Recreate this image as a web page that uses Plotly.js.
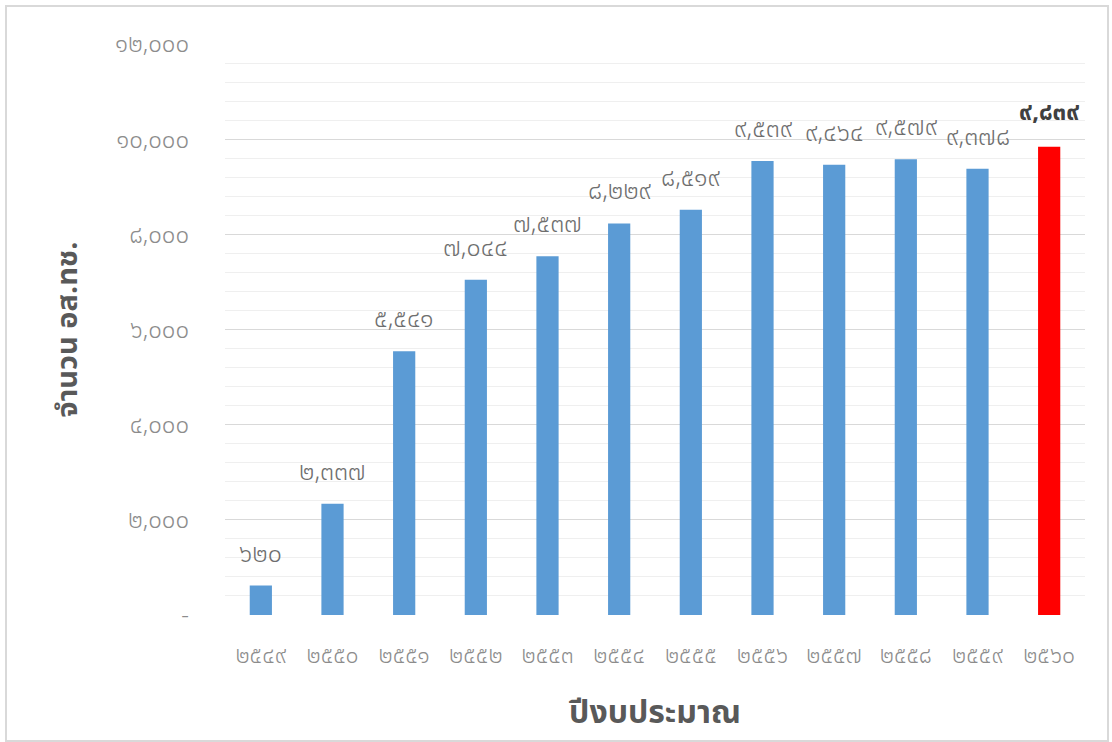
<!DOCTYPE html>
<html>
<head>
<meta charset="utf-8">
<script src="https://cdn.plot.ly/plotly-3.0.1.min.js"></script>
<style>
html,body{margin:0;padding:0;background:#fff;}
#chart{width:1112px;height:742px;position:absolute;left:0;top:0;}
#frame{position:absolute;left:5px;top:5px;width:1100px;height:733px;border:2px solid #d9d9d9;pointer-events:none;}
</style>
</head>
<body>
<div id="chart"></div>
<div id="frame"></div>
<script>
const yearLabels = ['๒๕๔๙','๒๕๕๐','๒๕๕๑','๒๕๕๒','๒๕๕๓','๒๕๕๔','๒๕๕๕','๒๕๕๖','๒๕๕๗','๒๕๕๘','๒๕๕๙','๒๕๖๐'];
const values = [620, 2337, 5541, 7044, 7537, 8229, 8519, 9539, 9464, 9579, 9378, 9839];
const valueLabels = ['๖๒๐','๒,๓๓๗','๕,๕๔๑','๗,๐๔๔','๗,๕๓๗','๘,๒๒๙','๘,๕๑๙','๙,๕๓๙','๙,๔๖๔','๙,๕๗๙','๙,๓๗๘','๙,๘๓๙'];
const yTickVals = [0, 2000, 4000, 6000, 8000, 10000, 12000];
const yTickText = ['-','๒,๐๐๐','๔,๐๐๐','๖,๐๐๐','๘,๐๐๐','๑๐,๐๐๐','๑๒,๐๐๐'];
const barColors = ['#5b9bd5','#5b9bd5','#5b9bd5','#5b9bd5','#5b9bd5','#5b9bd5','#5b9bd5','#5b9bd5','#5b9bd5','#5b9bd5','#5b9bd5','#ff0000'];

const FONT = '"Noto Sans Thai", "Noto Sans", "DejaVu Sans", sans-serif';

const annotations = values.map((v, i) => {
  const last = i === values.length - 1;
  return {
    x: i, y: v, xref: 'x', yref: 'y',
    text: valueLabels[i], showarrow: false, yshift: last ? 34 : 32,
    font: {family: FONT, size: last ? 24 : 25, color: last ? '#404040' : '#6e6e6e', weight: last ? 'bold' : 300}
  };
});

const trace = {
  type: 'bar', x: yearLabels, y: values,
  marker: {color: barColors},
  hoverinfo: 'none'
};

const layout = {
  width: 1112, height: 742,
  margin: {l: 225, r: 27, t: 44, b: 127},
  paper_bgcolor: '#ffffff', plot_bgcolor: '#ffffff',
  bargap: 0.69,
  showlegend: false,
  font: {family: FONT, color: '#8c8c8c'},
  xaxis: {
    type: 'category',
    tickfont: {family: FONT, size: 23, color: '#8c8c8c', weight: 300},
    showgrid: false, zeroline: false, showline: false, ticks: '',
    ticklabelstandoff: 24,
    title: {text: 'ปีงบประมาณ', font: {family: FONT, size: 32, color: '#595959', weight: 'bold'}, standoff: 28}
  },
  yaxis: {
    range: [0, 12000],
    tickvals: yTickVals, ticktext: yTickText,
    tickfont: {family: FONT, size: 24, color: '#8c8c8c', weight: 300},
    showgrid: true, gridcolor: '#d9d9d9', gridwidth: 1,
    minor: {dtick: 400, showgrid: true, gridcolor: '#efefef', gridwidth: 1, tick0: 0},
    zeroline: false, showline: false, ticks: '',
    ticklabelstandoff: 35,
    title: {text: 'จำนวน อส.ทช.', font: {family: FONT, size: 29, color: '#595959', weight: 'bold'}, standoff: 28}
  },
  annotations: annotations
};

Plotly.newPlot('chart', [trace], layout, {staticPlot: true, displayModeBar: false});
</script>
</body>
</html>
